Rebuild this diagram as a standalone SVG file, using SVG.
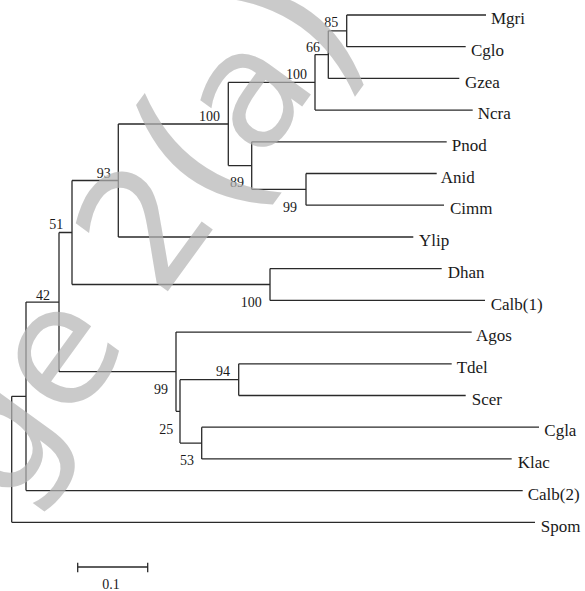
<svg xmlns="http://www.w3.org/2000/svg" width="585" height="591" viewBox="0 0 585 591">
<style>
.br{fill:none;stroke:#2a2a2a;stroke-width:1.3}
.tx{font-family:"Liberation Serif","Times New Roman",serif;font-size:17px;fill:#1a1a1a}
.bs{font-family:"Liberation Serif","Times New Roman",serif;font-size:14px;fill:#1a1a1a}
.wm{font-family:"DejaVu Sans","Noto Sans",sans-serif;font-size:165px;fill:#b5b5b5;opacity:0.7}
</style>
<rect width="585" height="591" fill="#fff"/>
<g id="connectors" class="br">
<path d="M346.7,15V46.7M346.7,15H486M346.7,46.7H465.7"/>
<path d="M328.3,30.85V78.4M328.3,30.85H346.7M328.3,78.4H459.3"/>
<path d="M315,54.6V110.1M315,54.6H328.3M315,110.1H472.7"/>
<path d="M306,173.5V205.2M306,173.5H436.7M306,205.2H444"/>
<path d="M251.7,141.8V189.3M251.7,141.8H446.7M251.7,189.3H306"/>
<path d="M228.3,82.4V165.6M228.3,82.4H315M228.3,165.6H251.7"/>
<path d="M118.3,124V237M118.3,124H228.3M118.3,237H413.3"/>
<path d="M270,268.6V300.4M270,268.6H441.7M270,300.4H485"/>
<path d="M72,180.5V284.5M72,180.5H118.3M72,284.5H270"/>
<path d="M238.7,363.8V395.5M238.7,363.8H451.7M238.7,395.5H465.7"/>
<path d="M201.7,427.2V458.9M201.7,427.2H539M201.7,458.9H511.7"/>
<path d="M180,379.65V443.05M180,379.65H238.7M180,443.05H201.7"/>
<path d="M176,332.1V411.35M176,332.1H471.7M176,411.35H180"/>
<path d="M59,232.5V371.7M59,232.5H72M59,371.7H176"/>
<path d="M26,302.1V490.6M26,302.1H59M26,490.6H522.7"/>
<path d="M11.7,396.35V522.3M11.7,396.35H26M11.7,522.3H535"/>
</g>
<g id="leaves" class="tx">
<text id="Mgri" x="491" y="24.2">Mgri</text>
<text id="Cglo" x="471" y="55.9">Cglo</text>
<text id="Gzea" x="465" y="87.6">Gzea</text>
<text id="Ncra" x="477.7" y="119.3">Ncra</text>
<text id="Pnod" x="451.7" y="151">Pnod</text>
<text id="Anid" x="440.7" y="182.7">Anid</text>
<text id="Cimm" x="450" y="214.4">Cimm</text>
<text id="Ylip" x="419" y="246.2">Ylip</text>
<text id="Dhan" x="447.7" y="277.8">Dhan</text>
<text id="Calb1" x="490.7" y="309.6">Calb(1)</text>
<text id="Agos" x="476" y="341.3">Agos</text>
<text id="Tdel" x="456.7" y="373">Tdel</text>
<text id="Scer" x="471.7" y="404.7">Scer</text>
<text id="Cgla" x="544.3" y="436.4">Cgla</text>
<text id="Klac" x="517.7" y="468.1">Klac</text>
<text id="Calb2" x="527.7" y="499.8">Calb(2)</text>
<text id="Spom" x="540.7" y="531.5">Spom</text>
</g>
<g id="bootstrap" class="bs">
<text x="324.3" y="27.3">85</text>
<text x="306" y="51.7">66</text>
<text x="286" y="79.3">100</text>
<text x="199" y="120.7">100</text>
<text x="230" y="187.3">89</text>
<text x="283" y="212.3">99</text>
<text x="96.7" y="178.3">93</text>
<text x="49.3" y="229.3">51</text>
<text x="240.7" y="306.7">100</text>
<text x="36" y="299.7">42</text>
<text x="154" y="394">99</text>
<text x="216" y="375.7">94</text>
<text x="159.3" y="434.3">25</text>
<text x="180" y="465">53</text>
</g>
<g id="scalebar">
<path class="br" d="M77.7,567H147.7M77.7,562.7V572.3M147.7,562.7V572.3"/>
<text class="bs" x="111" y="589.3" text-anchor="middle">0.1</text>
</g>
<g id="watermark">
<text class="wm" transform="rotate(-54)" x="-407.8" y="307">ge 2<tspan font-size="190" dx="-5" dy="9">(</tspan><tspan dx="-5" dy="-9">a</tspan><tspan font-size="190" dx="-6" dy="12">)</tspan></text>
</g>
</svg>
